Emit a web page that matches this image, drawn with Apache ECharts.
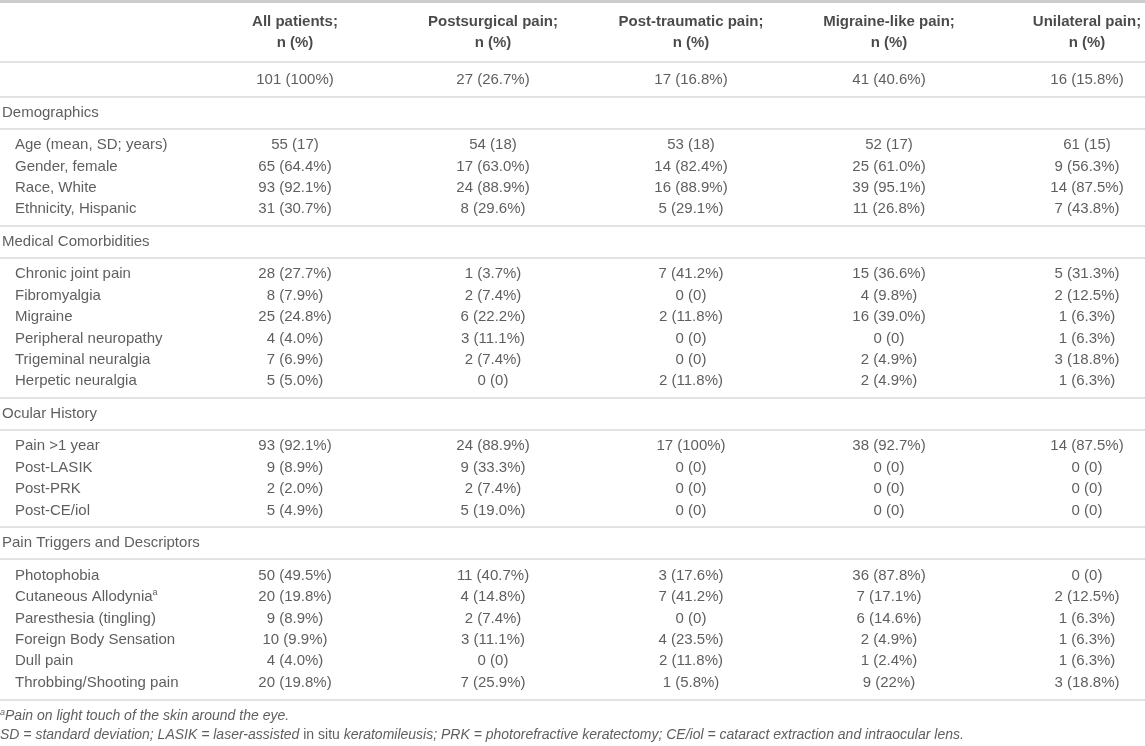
<!DOCTYPE html>
<html>
<head>
<meta charset="utf-8">
<title>Patient characteristics by pain group</title>
<script src="https://cdn.jsdelivr.net/npm/echarts/dist/echarts.min.js"></script>
<style>
  html, body { margin: 0; padding: 0; background: #fff; }
  #table { width: 1145px; height: 746px; }
</style>
</head>
<body>
<div id="table"></div>
<script>
// column headers and the n row
var headers = ['All patients;\nn (%)', 'Postsurgical pain;\nn (%)', 'Post-traumatic pain;\nn (%)', 'Migraine-like pain;\nn (%)', 'Unilateral pain;\nn (%)'];
var totals = ['101 (100%)', '27 (26.7%)', '17 (16.8%)', '41 (40.6%)', '16 (15.8%)'];

var sectionNames = ['Demographics', 'Medical Comorbidities', 'Ocular History', 'Pain Triggers and Descriptors'];

var demographicsLabels = ['Age (mean, SD; years)', 'Gender, female', 'Race, White', 'Ethnicity, Hispanic'];
var demographicsValues = [
    ['55 (17)', '54 (18)', '53 (18)', '52 (17)', '61 (15)'],
    ['65 (64.4%)', '17 (63.0%)', '14 (82.4%)', '25 (61.0%)', '9 (56.3%)'],
    ['93 (92.1%)', '24 (88.9%)', '16 (88.9%)', '39 (95.1%)', '14 (87.5%)'],
    ['31 (30.7%)', '8 (29.6%)', '5 (29.1%)', '11 (26.8%)', '7 (43.8%)']
];

var comorbidityLabels = ['Chronic joint pain', 'Fibromyalgia', 'Migraine', 'Peripheral neuropathy', 'Trigeminal neuralgia', 'Herpetic neuralgia'];
var comorbidityValues = [
    ['28 (27.7%)', '1 (3.7%)', '7 (41.2%)', '15 (36.6%)', '5 (31.3%)'],
    ['8 (7.9%)', '2 (7.4%)', '0 (0)', '4 (9.8%)', '2 (12.5%)'],
    ['25 (24.8%)', '6 (22.2%)', '2 (11.8%)', '16 (39.0%)', '1 (6.3%)'],
    ['4 (4.0%)', '3 (11.1%)', '0 (0)', '0 (0)', '1 (6.3%)'],
    ['7 (6.9%)', '2 (7.4%)', '0 (0)', '2 (4.9%)', '3 (18.8%)'],
    ['5 (5.0%)', '0 (0)', '2 (11.8%)', '2 (4.9%)', '1 (6.3%)']
];

var ocularLabels = ['Pain >1 year', 'Post-LASIK', 'Post-PRK', 'Post-CE/iol'];
var ocularValues = [
    ['93 (92.1%)', '24 (88.9%)', '17 (100%)', '38 (92.7%)', '14 (87.5%)'],
    ['9 (8.9%)', '9 (33.3%)', '0 (0)', '0 (0)', '0 (0)'],
    ['2 (2.0%)', '2 (7.4%)', '0 (0)', '0 (0)', '0 (0)'],
    ['5 (4.9%)', '5 (19.0%)', '0 (0)', '0 (0)', '0 (0)']
];

var triggerLabels = ['Photophobia', 'Cutaneous Allodynia{sup|a}', 'Paresthesia (tingling)', 'Foreign Body Sensation', 'Dull pain', 'Throbbing/Shooting pain'];
var triggerValues = [
    ['50 (49.5%)', '11 (40.7%)', '3 (17.6%)', '36 (87.8%)', '0 (0)'],
    ['20 (19.8%)', '4 (14.8%)', '7 (41.2%)', '7 (17.1%)', '2 (12.5%)'],
    ['9 (8.9%)', '2 (7.4%)', '0 (0)', '6 (14.6%)', '1 (6.3%)'],
    ['10 (9.9%)', '3 (11.1%)', '4 (23.5%)', '2 (4.9%)', '1 (6.3%)'],
    ['4 (4.0%)', '0 (0)', '2 (11.8%)', '1 (2.4%)', '1 (6.3%)'],
    ['20 (19.8%)', '7 (25.9%)', '1 (5.8%)', '9 (22%)', '3 (18.8%)']
];

var footnotes = [
    '{sup|a}{i|Pain on light touch of the skin around the eye.}',
    '{i|SD = standard deviation; LASIK = laser-assisted }{n|in situ}{i| keratomileusis; PRK = photorefractive keratectomy; CE/iol = cataract extraction and intraocular lens.}'
];

// row steps (in rows) used to stack the table
var ROW = 1, GAP = 1.52;

var FONT = '"Liberation Sans", Arial, sans-serif';
var TEXT = '#363636';
var RULE = '#d9d9d9';

var headerPts = [], totalPts = [], sectionPts = [], labelPts = [], cellPts = [], footPts = [];
var rules = [];

var y = 0;
headers.forEach(function (h, c) { headerPts.push([c + 1, y, h]); });
rules.push(y + 1.4);
y += 2.24;
totals.forEach(function (t, c) { totalPts.push([c + 1, y, t]); });

var sections = [
    [demographicsLabels, demographicsValues],
    [comorbidityLabels, comorbidityValues],
    [ocularLabels, ocularValues],
    [triggerLabels, triggerValues]
];
sections.forEach(function (sec, s) {
    y += GAP;
    rules.push(y - 0.75);
    sectionPts.push([0, y, sectionNames[s]]);
    rules.push(y + 0.75);
    y += GAP - ROW;
    sec[0].forEach(function (lab, r) {
        y += ROW;
        labelPts.push([0, y, lab]);
        sec[1][r].forEach(function (v, c) { cellPts.push([c + 1, y, v]); });
    });
});
rules.push(y + 0.82);
footPts.push([0, y + 1.56, footnotes[0]]);
footPts.push([0, y + 2.45, footnotes[1]]);

function textSeries(name, data, label) {
    return {
        name: name,
        type: 'scatter',
        data: data,
        symbolSize: 1,
        itemStyle: { color: 'rgba(0,0,0,0)' },
        silent: true,
        label: Object.assign({
            show: true,
            position: 'inside',
            formatter: function (p) { return p.data[2]; },
            fontFamily: FONT,
            fontSize: 15,
            color: TEXT,
            align: 'center',
            verticalAlign: 'middle'
        }, label)
    };
}

var chart = echarts.init(document.getElementById('table'), null, { renderer: 'canvas' });

var option = {
    animation: false,
    tooltip: { show: false },
    grid: { left: 0, right: 0, top: 0, bottom: 0 },
    xAxis: {
        type: 'value',
        min: -0.49,
        max: 5.293,
        show: false
    },
    yAxis: {
        type: 'value',
        inverse: true,
        min: -1.495,
        max: 33.36,
        show: false
    },
    series: [
        {
            name: 'rules',
            type: 'line',
            data: [],
            silent: true,
            markLine: {
                silent: true,
                symbol: ['none', 'none'],
                label: { show: false },
                lineStyle: { color: RULE, width: 1.5, type: 'solid' },
                data: [{ yAxis: -1.43, lineStyle: { color: '#cccccc', width: 3, type: 'solid' } }].concat(
                    rules.map(function (v) { return { yAxis: v }; })
                )
            }
        },
        textSeries('headers', headerPts, { fontWeight: 'bold', color: '#1d1d1d', lineHeight: 21 }),
        textSeries('totals', totalPts, {}),
        textSeries('sections', sectionPts, { align: 'left', offset: [-95, 0] }),
        textSeries('rowLabels', labelPts, {
            align: 'left',
            offset: [-82, 0],
            rich: {
                sup: { fontFamily: FONT, fontSize: 9, color: TEXT, verticalAlign: 'top', lineHeight: 18, padding: [0, 0, 8, 0] }
            }
        }),
        textSeries('cells', cellPts, {}),
        textSeries('footnotes', footPts, {
            align: 'left',
            offset: [-97, 0],
            rich: {
                i: { fontFamily: FONT, fontSize: 14, fontStyle: 'italic', color: TEXT },
                n: { fontFamily: FONT, fontSize: 14, color: TEXT },
                sup: { fontFamily: FONT, fontSize: 9, fontStyle: 'italic', color: TEXT, padding: [0, 0, 8, 0] }
            }
        })
    ]
};

chart.setOption(option);
</script>
</body>
</html>
